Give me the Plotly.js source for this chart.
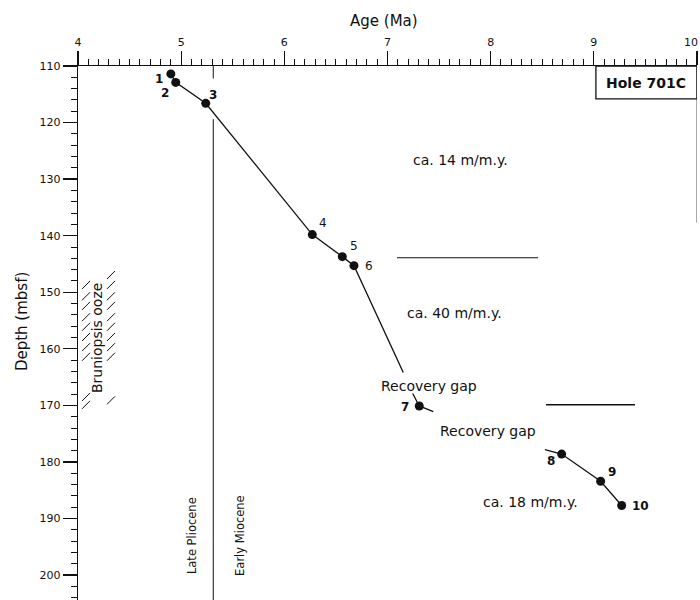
<!DOCTYPE html>
<html>
<head>
<meta charset="utf-8">
<script src="https://cdn.plot.ly/plotly-3.0.1.min.js"></script>
<style>html,body{margin:0;padding:0;background:#fff;}#chart{width:700px;height:600px;}</style>
</head>
<body>
<div id="chart"></div>
<script>
// ---- Data (Age in Ma, Depth in mbsf) ----
var pointLabels = ["1","2","3","4","5","6","7","8","9","10"];
var pointAge    = [4.90, 4.947, 5.238, 6.271, 6.562, 6.675, 7.308, 8.688, 9.066, 9.270];
var pointDepth  = [111.4, 112.9, 116.6, 139.8, 143.7, 145.3, 170.1, 178.6, 183.4, 187.7];

// age-depth line segments (null = break at recovery gaps)
var lineAge   = [4.90, 4.947, 5.238, 6.271, 6.562, 6.675, 7.153, null, 7.244, 7.308, 7.444, null, 8.526, 8.688, 9.066, 9.270];
var lineDepth = [111.4, 112.9, 116.6, 139.8, 143.7, 145.3, 164.2, null, 167.9, 170.1, 171.1, null, 177.8, 178.6, 183.4, 187.7];

// horizontal boundary lines between rate intervals
var bound1Age = [7.092, 8.459];
var bound1Depth = [143.9, 143.9];
var bound2Age = [8.536, 9.399];
var bound2Depth = [169.9, 169.9];

// Pliocene / Miocene boundary (vertical)
var epochAge = [5.311, 5.311, null, 5.311, 5.311];
var epochDepth = [110, 112.2, null, 119.4, 204.4];

// right frame fragment
var frameAge = [10, 10];
var frameDepth = [110, 137.7];

// Bruniopsis ooze hatch marks
var hatchAge   = [4.078,4.078,4.078,4.078,4.078,4.078,4.078,4.078,4.078,4.078,
                  4.32,4.32,4.32,4.32,4.32,4.32,4.32,4.32,4.32,4.32];
var hatchDepth = [148.7,150.7,152.4,154.4,156.1,157.9,159.7,161.4,168.5,169.9,
                  146.95,148.7,150.7,152.4,154.4,156.1,157.9,159.7,161.4,169.1];

// axis ticks
var xTickVals = [4, 5, 6, 7, 8, 9, 10];
var xTickText = ["4", "5", "6", "7", "8", "9", ""];
var lastXTick = "10";

// text labels
var rateLabels = ["ca. 14 m/m.y.", "ca. 40 m/m.y.", "Recovery gap", "Recovery gap", "ca. 18 m/m.y."];
var rateAge    = [7.71, 7.645, 7.405, 7.977, 8.39];
var rateDepth  = [126.6, 153.7, 166.6, 174.5, 187.1];

var xTitle = "Age (Ma)";
var yTitle = "Depth (mbsf)";
var holeLabel = "Hole 701C";
var boxAge = [9.02, 10];
var boxDepth = [110, 115.8];

// ---- style / layout ----
var FONT = "DejaVu Sans, Liberation Sans, Arial, sans-serif";
var black = "#111";
// label pixel offsets for point numbers
var labDX = [-12, -11, 7, 11, 12, 15, -14, -11, 11, 19];
var labDY = [-5, -11, 8, 12, 11, 0, -1, -7, 9, 0];
var labBold = [true, true, true, false, false, false, true, true, true, true];

var traces = [
  {x: epochAge, y: epochDepth, mode: 'lines', line: {color: black, width: 1}, hoverinfo: 'skip', connectgaps: false},
  {x: frameAge, y: frameDepth, mode: 'lines', line: {color: '#555', width: 1}, hoverinfo: 'skip'},
  {x: bound1Age, y: bound1Depth, mode: 'lines', line: {color: black, width: 1.2}, hoverinfo: 'skip'},
  {x: bound2Age, y: bound2Depth, mode: 'lines', line: {color: black, width: 1.5}, hoverinfo: 'skip'},
  {x: lineAge, y: lineDepth, mode: 'lines', line: {color: black, width: 1.3}, connectgaps: false, hoverinfo: 'skip'},
  {x: pointAge, y: pointDepth, mode: 'markers', marker: {color: black, size: 9}},
  {x: hatchAge, y: hatchDepth, mode: 'markers', marker: {symbol: 'line-ne', size: 8, line: {color: black, width: 1}}, hoverinfo: 'skip'}
];

var annotations = [];
for (var i = 0; i < pointLabels.length; i++) {
  annotations.push({
    x: pointAge[i], y: pointDepth[i], xref: 'x', yref: 'y',
    text: labBold[i] ? '<b>' + pointLabels[i] + '</b>' : pointLabels[i],
    showarrow: false, xshift: labDX[i], yshift: labDY[i],
    font: {family: FONT, size: 12, color: black}
  });
}
for (var j = 0; j < rateLabels.length; j++) {
  annotations.push({
    x: rateAge[j], y: rateDepth[j], xref: 'x', yref: 'y', text: rateLabels[j],
    showarrow: false, font: {family: FONT, size: 14, color: black}
  });
}
annotations.push({x: (boxAge[0] + boxAge[1]) / 2, y: 113.0, xref: 'x', yref: 'y', text: '<b>' + holeLabel + '</b>',
  showarrow: false, font: {family: FONT, size: 14, color: black}});
annotations.push({x: 5.105, y: 193.1, xref: 'x', yref: 'y', text: 'Late Pliocene', textangle: -90,
  showarrow: false, font: {family: FONT, size: 11.5, color: black}});
annotations.push({x: 5.57, y: 192.9, xref: 'x', yref: 'y', text: 'Early Miocene', textangle: -90,
  showarrow: false, font: {family: FONT, size: 11.5, color: black}});
annotations.push({x: 4.184, y: 158.1, xref: 'x', yref: 'y', text: 'Bruniopsis ooze', textangle: -90,
  showarrow: false, font: {family: FONT, size: 14, color: black}});
annotations.push({x: 0.494, y: 1.0843, xref: 'paper', yref: 'paper', yanchor: 'middle', xanchor: 'center', text: xTitle,
  showarrow: false, font: {family: FONT, size: 15, color: black}});
annotations.push({x: -0.0905, y: 155.1, xref: 'paper', yref: 'y', yanchor: 'middle', xanchor: 'center', text: yTitle, textangle: -90,
  showarrow: false, font: {family: FONT, size: 15, color: black}});
annotations.push({x: xTickVals[xTickVals.length - 1], y: 1.0431, xref: 'x', yref: 'paper', yanchor: 'middle', xanchor: 'right',
  xshift: 3, text: lastXTick, showarrow: false, font: {family: FONT, size: 11, color: black}});

var layout = {
  width: 700, height: 600,
  margin: {l: 78, r: 3, t: 66, b: 0, pad: 0},
  paper_bgcolor: '#fff', plot_bgcolor: '#fff',
  showlegend: false,
  font: {family: FONT, color: black},
  xaxis: {
    range: [4, 10], side: 'top', tickmode: 'array', tickvals: xTickVals, ticktext: xTickText,
    showline: true, linecolor: black, linewidth: 1.3,
    ticks: 'outside', ticklen: 14, tickwidth: 1.3, tickcolor: black,
    minor: {dtick: 0.1, tick0: 4, ticklen: 6, tickwidth: 1, tickcolor: black, ticks: 'outside', showgrid: false},
    showgrid: false, zeroline: false, tickfont: {family: FONT, size: 11, color: black}
  },
  yaxis: {
    range: [204.4, 110], tick0: 110, dtick: 10,
    showline: true, linecolor: black, linewidth: 1.3,
    ticks: 'outside', ticklen: 14, tickwidth: 1.3, tickcolor: black,
    minor: {dtick: 2, ticklen: 6, tickwidth: 1, tickcolor: black, ticks: 'outside', showgrid: false},
    showgrid: false, zeroline: false, tickfont: {family: FONT, size: 11, color: black}
  },
  shapes: [
    {type: 'rect', xref: 'x', yref: 'y', x0: boxAge[0], x1: boxAge[1], y0: boxDepth[0], y1: boxDepth[1],
     line: {color: black, width: 1.3}, fillcolor: 'rgba(0,0,0,0)'}
  ],
  annotations: annotations
};

Plotly.newPlot('chart', traces, layout, {displayModeBar: false, staticPlot: true});
</script>
</body>
</html>
